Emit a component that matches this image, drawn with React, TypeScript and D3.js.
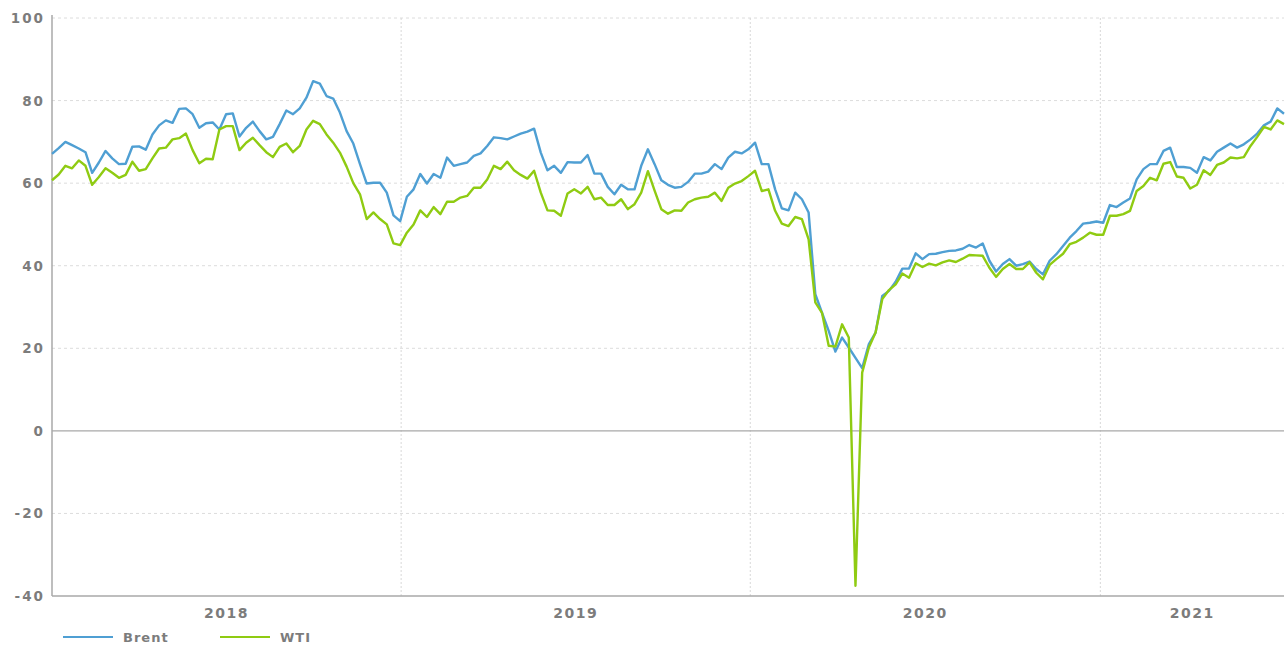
import React, { useRef, useEffect } from 'react';
import * as d3 from 'd3';

// weekly samples, first one on 2018-01-01
const START = new Date(2018, 0, 1);

const brent = [
  67.1, 68.5, 70.0, 69.2, 68.4, 67.5, 62.5, 65.0, 67.8, 66.0, 64.6, 64.7, 68.8, 68.9, 68.1, 71.8,
  74.0, 75.2, 74.6, 78.0, 78.1, 76.7, 73.4, 74.5, 74.7, 73.0, 76.7, 76.9, 71.3, 73.4, 74.9, 72.6,
  70.6, 71.2, 74.3, 77.6, 76.7, 78.1, 80.7, 84.7, 84.1, 81.1, 80.5, 77.1, 72.6, 69.6, 64.6, 59.9,
  60.1, 60.1, 57.7, 52.2, 50.8, 56.7, 58.5, 62.2, 59.9, 62.2, 61.3, 66.2, 64.2, 64.6, 65.0, 66.6,
  67.2, 69.0, 71.1, 70.9, 70.6, 71.3, 72.0, 72.5, 73.2, 67.4, 63.1, 64.2, 62.5, 65.1, 65.0, 65.0,
  66.8, 62.3, 62.3, 59.1, 57.3, 59.6, 58.5, 58.5, 64.2, 68.2, 64.6, 60.7, 59.6, 58.9, 59.1, 60.3,
  62.3, 62.3, 62.8, 64.6, 63.4, 66.2, 67.6, 67.2, 68.2, 69.8, 64.6, 64.6, 58.5, 53.9, 53.4, 57.7,
  56.1, 52.9, 33.1, 28.6, 24.2, 19.2, 22.6, 20.2, 17.7, 15.2, 21.0, 23.8, 32.7, 33.9, 36.1, 39.3,
  39.3, 43.0, 41.6, 42.8, 42.9, 43.3, 43.6, 43.7, 44.1, 45.0, 44.4, 45.4, 41.2, 38.6, 40.4, 41.6,
  40.0, 40.4, 41.0, 39.2, 37.9, 41.2, 42.8, 44.8, 46.8, 48.4, 50.2, 50.4, 50.7, 50.4, 54.7, 54.2,
  55.3, 56.3, 60.9, 63.4, 64.6, 64.6, 67.8, 68.6, 63.9, 63.9, 63.7, 62.5, 66.3, 65.5, 67.6, 68.6,
  69.6, 68.6, 69.4, 70.6, 72.0, 74.0, 74.9, 78.1, 76.8,
];

const wti = [
  60.7, 62.1, 64.2, 63.6, 65.5, 64.2, 59.6, 61.5, 63.6, 62.5, 61.3, 62.0, 65.2, 63.0, 63.4, 66.0,
  68.4, 68.6, 70.6, 70.9, 72.0, 68.0, 64.8, 65.9, 65.8, 73.0, 73.8, 73.8, 68.0, 69.8, 71.0, 69.2,
  67.5, 66.3, 68.8, 69.6, 67.5, 69.0, 73.0, 75.1, 74.3, 71.8, 69.8, 67.4, 64.0, 60.0, 57.3, 51.3,
  52.9, 51.3, 50.0, 45.4, 45.0, 48.0, 50.0, 53.4, 51.8, 54.2, 52.5, 55.5, 55.5, 56.5, 56.9, 58.9,
  58.9, 60.9, 64.2, 63.4, 65.2, 63.1, 62.0, 61.1, 63.0, 57.7, 53.4, 53.3, 52.1, 57.5, 58.5, 57.5,
  59.1, 56.1, 56.5, 54.7, 54.7, 56.1, 53.7, 54.9, 57.7, 62.9, 58.2, 53.7, 52.6, 53.4, 53.3, 55.3,
  56.1, 56.5, 56.7, 57.7, 55.7, 58.9, 59.9, 60.5, 61.7, 63.0, 58.1, 58.5, 53.3, 50.2, 49.6, 51.8,
  51.3, 46.4, 31.1, 28.6, 20.6, 20.4, 25.8, 22.6, -37.5, 14.1, 20.2, 23.8, 31.9, 34.1, 35.5, 38.1,
  37.1, 40.6, 39.7, 40.5, 40.1, 40.8, 41.3, 40.9, 41.7, 42.6, 42.5, 42.4, 39.5, 37.3, 39.2, 40.4,
  39.2, 39.2, 40.8, 38.3, 36.7, 40.2, 41.6, 42.9, 45.2, 45.8, 46.8, 48.0, 47.5, 47.5, 52.1, 52.1,
  52.5, 53.3, 58.1, 59.3, 61.3, 60.7, 64.7, 65.1, 61.6, 61.3, 58.7, 59.6, 63.1, 62.0, 64.4, 65.0,
  66.2, 66.0, 66.3, 69.0, 71.2, 73.6, 73.0, 75.2, 74.3,
];

const seriesNames = ['Brent', 'WTI'];
const seriesColors = ['#4f9fd3', '#8fcb12'];
const yTicks = [-40, -20, 0, 20, 40, 60, 80, 100];
const years = [2018, 2019, 2020, 2021];

const FONT = '"DejaVu Sans", sans-serif';
const TEXT = '#7c7c7c';

const OilChart = () => {
  const ref = useRef(null);

  useEffect(() => {
    const svg = d3.select(ref.current);
    svg.selectAll('*').remove();

    const left = 52, right = 1284, top = 18, bottom = 596;
    const dates = brent.map((_, i) => d3.timeDay.offset(START, i * 7));
    const x = d3.scaleTime().domain([START, dates[dates.length - 1]]).range([left, right]);
    const y = d3.scaleLinear().domain([-40, 100]).range([bottom, top]);

    // horizontal grid
    svg.append('g')
      .selectAll('line')
      .data(yTicks.filter(t => t !== -40 && t !== 0))
      .enter().append('line')
      .attr('x1', left).attr('x2', right)
      .attr('y1', d => y(d)).attr('y2', d => y(d))
      .attr('stroke', '#dcdcdc')
      .attr('stroke-dasharray', '3,3');

    // year dividers
    const [d0, d1] = x.domain();
    svg.append('g')
      .selectAll('line')
      .data(years.slice(1))
      .enter().append('line')
      .attr('x1', d => x(new Date(d, 0, 1))).attr('x2', d => x(new Date(d, 0, 1)))
      .attr('y1', top).attr('y2', bottom)
      .attr('stroke', '#d8d8d8')
      .attr('stroke-dasharray', '2,2');

    // zero line, bottom axis, left axis
    svg.append('line')
      .attr('x1', left).attr('x2', right)
      .attr('y1', y(0)).attr('y2', y(0))
      .attr('stroke', '#a8a8a8').attr('stroke-width', 1.2);
    svg.append('line')
      .attr('x1', left).attr('x2', right)
      .attr('y1', bottom).attr('y2', bottom)
      .attr('stroke', '#a8a8a8').attr('stroke-width', 1.5);
    svg.append('line')
      .attr('x1', left).attr('x2', left)
      .attr('y1', top - 3).attr('y2', bottom)
      .attr('stroke', '#a8a8a8').attr('stroke-width', 1.5);

    // y labels
    svg.append('g')
      .selectAll('text')
      .data(yTicks)
      .enter().append('text')
      .attr('x', 45)
      .attr('y', d => y(d) + 5)
      .attr('text-anchor', 'end')
      .attr('font-family', FONT)
      .attr('font-weight', 'bold')
      .attr('font-size', 13.5)
      .attr('letter-spacing', 2)
      .attr('fill', TEXT)
      .text(d => d);

    // year labels
    svg.append('g')
      .selectAll('text')
      .data(years)
      .enter().append('text')
      .attr('x', d => {
        const a = Math.max(+d0, +new Date(d, 0, 1));
        const b = Math.min(+d1, +new Date(d + 1, 0, 1));
        return (x(new Date(a)) + x(new Date(b))) / 2;
      })
      .attr('y', 618)
      .attr('text-anchor', 'middle')
      .attr('font-family', FONT)
      .attr('font-weight', 'bold')
      .attr('font-size', 14)
      .attr('letter-spacing', 1.5)
      .attr('fill', TEXT)
      .text(d => d);

    // lines
    const line = d3.line()
      .x((_, i) => x(dates[i]))
      .y(d => y(d));

    [brent, wti].forEach((s, k) => {
      svg.append('path')
        .datum(s)
        .attr('d', line)
        .attr('fill', 'none')
        .attr('stroke', seriesColors[k])
        .attr('stroke-width', 2.4)
        .attr('stroke-linejoin', 'round');
    });

    // legend
    const legend = svg.append('g')
      .selectAll('g')
      .data(seriesNames)
      .enter().append('g')
      .attr('transform', (_, i) => `translate(${63 + i * 157},637)`);
    legend.append('line')
      .attr('x1', 0).attr('x2', 50)
      .attr('stroke', (_, i) => seriesColors[i])
      .attr('stroke-width', 2);
    legend.append('text')
      .attr('x', 60).attr('y', 5)
      .attr('font-family', FONT)
      .attr('font-weight', 'bold')
      .attr('font-size', 13)
      .attr('letter-spacing', 1)
      .attr('fill', TEXT)
      .text(d => d);
  }, []);

  return (
    <svg ref={ref} width="1286" height="646" style={{ position: 'absolute', left: 0, top: 0 }}></svg>
  );
};

export default function App() {
  return <OilChart />;
}
